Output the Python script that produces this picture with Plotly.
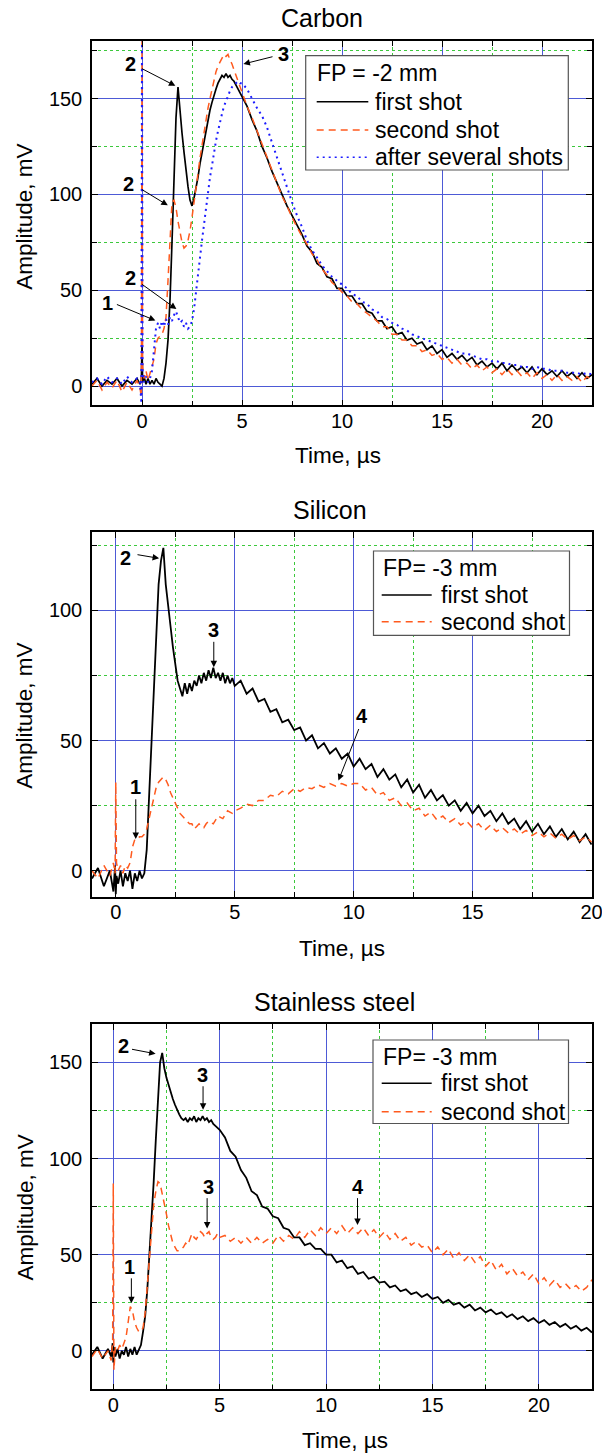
import plotly.graph_objects as go

FONT = "Liberation Sans, Arial, sans-serif"
BLACK = "#000000"
ORANGE = "#ff5a1e"
BLUE = "#1c1cff"
GRID_MAJOR = "#4d5ad6"
GRID_MINOR = "#3cc83c"
DASH_ORANGE = "7px,5px"
DASH_BLUE = "2px,4px"

# ---------------- Carbon (FP = -2 mm) ----------------
carbon_t = [-2.5, -2.25, -2.0, -1.75, -1.5, -1.25, -1.0, -0.75, -0.5, -0.25, -0.1, -0.03, 0.0, 0.03, 0.1,
            0.2, 0.3, 0.4, 0.5, 0.6, 0.7, 0.8, 0.9, 1.0, 1.1, 1.2, 1.3, 1.4, 1.5, 1.6, 1.7, 1.8, 1.9, 2.0, 2.1,
            2.2, 2.3, 2.4, 2.5, 2.6, 2.7, 2.8, 2.9, 3.0, 3.1, 3.2, 3.3, 3.4, 3.5, 3.6, 3.7, 3.8, 3.9, 4.0, 4.1,
            4.2, 4.3, 4.4, 4.5, 4.6, 4.7, 4.8, 4.9, 5.0,
            5.25, 5.5, 5.75, 6.0, 6.25, 6.5, 6.75, 7.0, 7.25, 7.5, 7.75, 8.0, 8.25, 8.5, 8.75, 9.0, 9.25, 9.5, 9.75, 10.0,
            10.25, 10.5, 10.75, 11.0, 11.25, 11.5, 11.75, 12.0, 12.25, 12.5, 12.75, 13.0, 13.25, 13.5, 13.75, 14.0,
            14.25, 14.5, 14.75, 15.0, 15.25, 15.5, 15.75, 16.0, 16.25, 16.5, 16.75, 17.0, 17.25, 17.5, 17.75, 18.0,
            18.25, 18.5, 18.75, 19.0, 19.25, 19.5, 19.75, 20.0, 20.25, 20.5, 20.75, 21.0, 21.25, 21.5, 21.75, 22.0,
            22.25, 22.5]
carbon_first = [1, 4, 0, 3, 1, 4, 0, 3, 1, 4, 1, 3, 22, 2, 5,
                1, 4, 1, 3, 1, 4, 2, 1, 0, 4, 12, 24, 45, 75, 108, 140, 156, 142, 132, 122,
                112, 104, 97, 94, 98, 103, 109, 116, 122, 128, 134, 139, 144, 148, 152, 155, 158, 160, 162, 161,
                163, 161, 162, 160, 159, 157, 155, 153, 151,
                146, 139, 133, 125, 119, 112, 106, 100, 94, 89, 84, 79, 73, 70, 64, 62, 57, 56, 51, 51,
                47, 47, 43, 43, 39, 38, 34, 34, 30, 31, 27, 28, 24, 25, 22, 23, 19, 21, 17, 19,
                15, 17, 14, 16, 13, 15, 11, 13, 10, 12, 9, 12, 8, 11, 8, 10, 7, 10, 6, 9,
                6, 8, 5, 8, 5, 7, 4, 7, 4, 6]
carbon_second = [0, 3, -2, 2, -1, 3, -3, 2, -2, 3, -1, -6, 182, 10, 4,
                 8, 3, 7, 10, 14, 22, 25, 26, 27, 30, 36, 55, 78, 96, 97, 93, 86, 80, 75, 72,
                 73, 76, 81, 88, 95, 103, 111, 119, 126, 132, 139, 145, 150, 155, 160, 164, 167, 169, 171, 173,
                 172, 173, 170, 168, 165, 162, 159, 156, 153,
                 146, 140, 133, 126, 119, 112, 106, 99, 94, 88, 83, 78, 74, 69, 66, 61, 58, 54, 52, 49,
                 47, 44, 43, 40, 38, 36, 34, 31, 31, 27, 27, 24, 24, 21, 21, 18, 19, 16, 17, 14,
                 15, 12, 14, 11, 12, 9, 11, 8, 10, 7, 9, 6, 9, 6, 8, 5, 7, 4, 7, 4,
                 6, 3, 6, 3, 5, 3, 5, 2, 5, 3]
carbon_after = [2, 4, 1, 5, 2, 4, 1, 5, 2, 4, 2, -9, 182, 8, 2,
                5, 2, 4, 8, 18, 30, 33, 30, 34, 31, 35, 32, 36, 34, 37, 39, 36, 33, 34, 31,
                33, 30, 31, 34, 40, 48, 58, 67, 76, 85, 94, 102, 109, 115, 122, 128, 133, 138, 142, 146,
                149, 152, 154, 156, 157, 158, 159, 158, 158,
                155, 150, 145, 141, 135, 127, 119, 111, 103, 96, 89, 83, 76, 71, 67, 63, 60, 57, 55, 53,
                51, 48, 47, 44, 43, 40, 39, 36, 35, 33, 32, 30, 29, 27, 26, 25, 24, 23, 22, 21,
                20, 19, 18, 17, 17, 16, 15, 14, 14, 13, 13, 12, 12, 11, 11, 10, 10, 9, 10, 9,
                9, 8, 8, 8, 7, 7, 7, 6, 7, 6]

# ---------------- Silicon (FP = -3 mm) ----------------
silicon_t = [-1.0, -0.75, -0.5, -0.25, -0.1, -0.03, 0.0, 0.03, 0.1,
             0.2, 0.3, 0.4, 0.5, 0.6, 0.7, 0.8, 0.9, 1.0, 1.1, 1.2, 1.3, 1.4, 1.5, 1.6, 1.7, 1.8, 1.9, 2.0, 2.1,
             2.2, 2.3, 2.4, 2.5, 2.6, 2.7, 2.8, 2.9, 3.0, 3.1, 3.2, 3.3, 3.4, 3.5, 3.6, 3.7, 3.8, 3.9, 4.0, 4.1,
             4.2, 4.3, 4.4, 4.5, 4.6, 4.7, 4.8, 4.9, 5.0,
             5.25, 5.5, 5.75, 6.0, 6.25, 6.5, 6.75, 7.0, 7.25, 7.5, 7.75, 8.0, 8.25, 8.5, 8.75, 9.0, 9.25, 9.5, 9.75, 10.0,
             10.25, 10.5, 10.75, 11.0, 11.25, 11.5, 11.75, 12.0, 12.25, 12.5, 12.75, 13.0, 13.25, 13.5, 13.75, 14.0,
             14.25, 14.5, 14.75, 15.0, 15.25, 15.5, 15.75, 16.0, 16.25, 16.5, 16.75, 17.0, 17.25, 17.5, 17.75, 18.0,
             18.25, 18.5, 18.75, 19.0, 19.25, 19.5, 19.75, 20.0]
silicon_first = [-3, 1, -6, 0, -8, 2, -9, -2, -5,
                 0, -6, -1, -4, 0, -7, -1, -4, 0, -3, -1, 8, 28, 46, 68, 90, 110, 119, 124, 110,
                 103, 94, 86, 79, 73, 70, 67, 72, 68, 72, 69, 73, 71, 75, 72, 76, 73, 77, 74, 78,
                 74, 76, 73, 76, 72, 75, 72, 74, 71,
                 73, 68, 70, 65, 66, 61, 62, 57, 58, 54, 55, 50, 52, 47, 49, 45, 47, 43, 45, 40,
                 43, 39, 41, 36, 39, 35, 37, 32, 35, 30, 33, 28, 31, 27, 29, 25, 27, 23, 26, 22,
                 25, 21, 23, 19, 22, 18, 20, 16, 19, 15, 18, 14, 17, 13, 16, 12, 15, 11, 14, 10]
silicon_second = [0, -3, 2, -2, 3, -1, 34, 3, 0,
                  2, -1, 2, 1, 3, 9, 12, 12, 13, 13, 14, 16, 20, 25, 29, 32, 34, 35, 36, 35,
                  33, 30, 28, 26, 24, 22, 21, 20, 19, 18, 18, 16, 17, 18, 17, 16.5, 18, 19, 18.5, 18,
                  19.5, 21, 20.5, 20, 21.5, 23, 22.5, 22, 23,
                  24, 25.5, 25, 27, 27, 29, 28.5, 30.5, 29.5, 31.5, 30.5, 32, 31.5, 33, 32, 33.5, 32.5, 33.5, 32.5, 33.5,
                  33.5, 31, 32, 29, 30, 27, 28, 25, 26, 23, 24, 21, 22.5, 19.5, 21, 18.5, 20, 17.5, 19, 16.5,
                  18, 15.5, 17.5, 15, 16.5, 14.5, 16, 14, 15.5, 13.5, 15, 13, 14.5, 12.5, 14, 12, 13.5, 11.5, 13, 11]

# ---------------- Stainless steel (FP = -3 mm) ----------------
steel_t = [-1.0, -0.75, -0.5, -0.25, -0.1, -0.03, 0.0, 0.03, 0.1,
           0.2, 0.3, 0.4, 0.5, 0.6, 0.7, 0.8, 0.9, 1.0, 1.1, 1.2, 1.3, 1.4, 1.5, 1.6, 1.7, 1.8, 1.9, 2.0, 2.1,
           2.2, 2.3, 2.4, 2.5, 2.6, 2.7, 2.8, 2.9, 3.0, 3.1, 3.2, 3.3, 3.4, 3.5, 3.6, 3.7, 3.8, 3.9, 4.0, 4.1,
           4.2, 4.3, 4.4, 4.5, 4.6, 4.7, 4.8, 4.9, 5.0,
           5.25, 5.5, 5.75, 6.0, 6.25, 6.5, 6.75, 7.0, 7.25, 7.5, 7.75, 8.0, 8.25, 8.5, 8.75, 9.0, 9.25, 9.5, 9.75, 10.0,
           10.25, 10.5, 10.75, 11.0, 11.25, 11.5, 11.75, 12.0, 12.25, 12.5, 12.75, 13.0, 13.25, 13.5, 13.75, 14.0,
           14.25, 14.5, 14.75, 15.0, 15.25, 15.5, 15.75, 16.0, 16.25, 16.5, 16.75, 17.0, 17.25, 17.5, 17.75, 18.0,
           18.25, 18.5, 18.75, 19.0, 19.25, 19.5, 19.75, 20.0, 20.25, 20.5, 20.75, 21.0, 21.25, 21.5, 21.75, 22.0,
           22.25, 22.5]
steel_first = [-2, 2, -4, 1, -3, 4, -6, 2, -3,
               1, -4, 0, -2, 2, -3, 1, -2, 2, -2, 1, 3, 10, 18, 32, 50, 67, 88, 110, 130,
               150, 155, 147, 142, 138, 134, 131, 128, 125, 123, 121, 120, 121, 119, 121, 120, 122, 119, 121, 120,
               122, 120, 121, 119, 120, 118, 117, 116, 115,
               111, 104, 101, 94, 90, 83, 81, 75, 74, 70, 69, 64, 63, 59, 59, 55, 56, 53, 53, 50,
               50, 46, 47, 43, 44, 40, 41, 37.5, 38.5, 35.5, 36, 33, 34, 31, 32, 29.5, 30.5, 28, 29.5, 27,
               28, 25, 26.5, 24, 25, 22.5, 24, 21, 22.5, 20, 21.5, 19, 20, 17.5, 19, 16.5, 18, 15.5, 17, 14.5,
               16, 13.5, 15, 12.5, 14, 11.5, 13, 10.5, 12, 9.5]
steel_second = [-3, 1, -4, 0, -5, 5, 87, -10, 2,
                0, 3, 1, 4, 7, 15, 23, 21, 15, 12, 10, 10, 12, 20, 34, 52, 65, 76, 83, 88,
                87, 82, 77, 71, 65, 60, 56, 54, 52, 52, 53, 54, 56, 55, 58, 61, 59, 58, 60, 62,
                61, 59, 61, 62, 59, 58, 59, 61, 59,
                60, 57, 59, 56, 59, 56, 59, 56, 58, 56, 60, 57, 60, 58, 62, 59, 63, 60, 64, 61,
                64, 61, 65, 61, 64, 61, 64, 60, 63, 59, 62, 58, 61, 57, 59, 55, 57, 54, 55, 51,
                54, 50, 53, 48, 51, 47, 50, 46, 49, 44, 47, 42, 45, 40, 43, 39, 41, 37, 40, 35,
                38, 34, 37, 33, 35, 32, 34, 31, 33, 37]

# ---------------- labels (text, text_x, text_y, tail_x, tail_y, head_x, head_y) ----------------
carbon_marks = [("2", -0.58, 168, -0.08, 166, 1.67, 156.6),
                ("2", -0.67, 105.5, -0.08, 103, 1.29, 94.3),
                ("2", -0.58, 56.2, -0.08, 53.7, 1.72, 40.2),
                ("1", -1.75, 43.3, -1.33, 42.9, 0.67, 34.2),
                ("3", 7.07, 173, 6.6, 172, 5.07, 168)]
silicon_marks = [("2", 0.42, 120, 0.85, 121.5, 1.82, 120),
                 ("3", 4.12, 92.3, 4.12, 88.5, 4.12, 78.2),
                 ("1", 0.84, 32, 0.84, 28, 0.84, 12.2),
                 ("4", 10.34, 59.6, 10.24, 55, 9.36, 34.6)]
steel_marks = [("2", 0.5, 158.3, 0.81, 157, 1.99, 154.5),
               ("3", 4.18, 143.6, 4.22, 138.4, 4.22, 125.4),
               ("3", 4.49, 85.4, 4.41, 80.2, 4.41, 63.7),
               ("1", 0.77, 43.8, 0.85, 38.5, 0.85, 24.7),
               ("4", 11.48, 85.4, 11.48, 80.2, 11.48, 65.5)]

# legend contents per panel
carbon_legend_title = "FP = -2 mm"
carbon_legend_items = [("first shot", BLACK, "solid"), ("second shot", ORANGE, DASH_ORANGE),
                       ("after several shots", BLUE, DASH_BLUE)]
silicon_legend_title = "FP= -3 mm"
silicon_legend_items = [("first shot", BLACK, "solid"), ("second shot", ORANGE, DASH_ORANGE)]
steel_legend_title = "FP= -3 mm"
steel_legend_items = [("first shot", BLACK, "solid"), ("second shot", ORANGE, DASH_ORANGE)]

W, H = 602, 1456
L, R = 92, 10


def px_x(px):
    return (px - L) / (W - L - R)


def px_y(py):
    return 1 - py / H


fig = go.Figure()


def line_trace(x, y, name, color, dash, width, xa, ya):
    return go.Scatter(x=x, y=y, mode="lines", name=name, showlegend=False,
                      line=dict(color=color, dash=dash, width=width),
                      xaxis=xa, yaxis=ya)


fig.add_trace(line_trace(carbon_t, carbon_first, "first shot", BLACK, "solid", 1.7, "x", "y"))
fig.add_trace(line_trace(carbon_t, carbon_second, "second shot", ORANGE, DASH_ORANGE, 1.5, "x", "y"))
fig.add_trace(line_trace(carbon_t, carbon_after, "after several shots", BLUE, DASH_BLUE, 2, "x", "y"))
fig.add_trace(line_trace(silicon_t, silicon_first, "first shot", BLACK, "solid", 1.8, "x2", "y2"))
fig.add_trace(line_trace(silicon_t, silicon_second, "second shot", ORANGE, DASH_ORANGE, 1.5, "x2", "y2"))
fig.add_trace(line_trace(steel_t, steel_first, "first shot", BLACK, "solid", 1.8, "x3", "y3"))
fig.add_trace(line_trace(steel_t, steel_second, "second shot", ORANGE, DASH_ORANGE, 1.5, "x3", "y3"))


def axis(rng, dtick, minor_dtick, domain=None, anchor=None, is_x=True):
    d = dict(range=rng, dtick=dtick, tick0=0, showline=True, linecolor="black", linewidth=1.5,
             mirror="ticks", ticks="inside", ticklen=6, tickwidth=1, tickcolor="black",
             showgrid=True, gridcolor=GRID_MAJOR, gridwidth=1, zeroline=False,
             tickfont=dict(size=20, color="black", family=FONT),
             ticklabelstandoff=-3 if is_x else 4,
             ticklabeloverflow="allow",
             minor=dict(dtick=minor_dtick, tick0=0, ticks="inside", ticklen=5, tickcolor="black",
                        showgrid=True, gridcolor=GRID_MINOR, griddash="dot", gridwidth=1))
    if domain is not None:
        d["domain"] = domain
    if anchor is not None:
        d["anchor"] = anchor
    return d


dom1 = [px_y(405.3), px_y(41)]
dom2 = [px_y(896.7), px_y(532.3)]
dom3 = [px_y(1389.3), px_y(1024)]

annotations = []
shapes = []
for text, cx, cy in [("Carbon", 322, 18), ("Silicon", 330, 510), ("Stainless steel", 334, 1002)]:
    annotations.append(dict(text=text, x=px_x(cx), y=px_y(cy), xref="paper", yref="paper",
                            showarrow=False, xanchor="center", yanchor="middle",
                            font=dict(size=25, color="black", family=FONT)))
for cx, cy in [(337.7, 455), (341.6, 948), (345.4, 1440)]:
    annotations.append(dict(text="Time, µs", x=px_x(cx), y=px_y(cy), xref="paper", yref="paper",
                            showarrow=False, xanchor="center", yanchor="middle",
                            font=dict(size=22.5, color="black", family=FONT)))
for cy in [216.7, 715.8, 1207.5]:
    annotations.append(dict(text="Amplitude, mV", x=px_x(25), y=px_y(cy), xref="paper", yref="paper",
                            showarrow=False, xanchor="center", yanchor="middle", textangle=-90,
                            font=dict(size=22.5, color="black", family=FONT)))

for marks, xr, yr in [(carbon_marks, "x", "y"), (silicon_marks, "x2", "y2"), (steel_marks, "x3", "y3")]:
    for text, tx, ty, ax_, ay_, hx, hy in marks:
        annotations.append(dict(text="<b>%s</b>" % text, x=tx, y=ty, xref=xr, yref=yr, showarrow=False,
                                xanchor="center", yanchor="middle",
                                font=dict(size=20, color="black", family=FONT)))
        annotations.append(dict(text="", x=hx, y=hy, ax=ax_, ay=ay_, xref=xr, yref=yr, axref=xr, ayref=yr,
                                showarrow=True, arrowhead=2, arrowsize=1.3, arrowwidth=1,
                                arrowcolor="black", standoff=0, startstandoff=0))


# legend boxes drawn as box + line samples + texts (pixel geometry of the reference)
def add_legend(box, title, title_y, items, item_ys, line_x0, line_x1, text_x, title_x):
    x0, y0, x1, y1 = box
    shapes.append(dict(type="rect", xref="paper", yref="paper", x0=px_x(x0), x1=px_x(x1),
                       y0=px_y(y1), y1=px_y(y0), line=dict(color="#555555", width=1.2),
                       fillcolor="white", layer="above"))
    annotations.append(dict(text=title, x=px_x(title_x), y=px_y(title_y), xref="paper", yref="paper",
                            showarrow=False, xanchor="left", yanchor="middle",
                            font=dict(size=23, color="black", family=FONT)))
    for (label, color, dash), iy in zip(items, item_ys):
        shapes.append(dict(type="line", xref="paper", yref="paper", x0=px_x(line_x0), x1=px_x(line_x1),
                           y0=px_y(iy), y1=px_y(iy), line=dict(color=color, dash=dash, width=1.5),
                           layer="above"))
        annotations.append(dict(text=label, x=px_x(text_x), y=px_y(iy), xref="paper", yref="paper",
                                showarrow=False, xanchor="left", yanchor="middle",
                                font=dict(size=23, color="black", family=FONT)))


add_legend((305.7, 55.7, 568.3, 170), carbon_legend_title, 73.3, carbon_legend_items,
           [101.7, 130, 157.3], 316.7, 368.3, 372.5, 314.5)
add_legend((373.5, 551, 569.5, 635.3), silicon_legend_title, 568, silicon_legend_items,
           [595, 621.7], 381.7, 431.7, 438.5, 380.5)
add_legend((373, 1040, 568.5, 1123.5), steel_legend_title, 1056.7, steel_legend_items,
           [1083.3, 1111.7], 381.7, 431.7, 438.5, 380.5)

fig.update_layout(
    width=W, height=H,
    margin=dict(l=L, r=R, t=0, b=0),
    paper_bgcolor="white", plot_bgcolor="white",
    font=dict(family=FONT, color="black"),
    showlegend=False,
    xaxis=axis([-2.5, 22.5], 5, 2.5, anchor="y"),
    yaxis=axis([-10, 180], 50, 25, domain=dom1, anchor="x", is_x=False),
    xaxis2=axis([-1, 20.02], 5, 2.5, anchor="y2"),
    yaxis2=axis([-10, 130], 50, 25, domain=dom2, anchor="x2", is_x=False),
    xaxis3=axis([-1, 22.5], 5, 2.5, anchor="y3"),
    yaxis3=axis([-20, 170], 50, 25, domain=dom3, anchor="x3", is_x=False),
    annotations=annotations,
    shapes=shapes,
)

fig.write_html("out.html", config={"displayModeBar": False},
               post_script="document.body.style.margin='0';document.body.style.padding='0';"
                           "document.documentElement.style.overflow='hidden';")
